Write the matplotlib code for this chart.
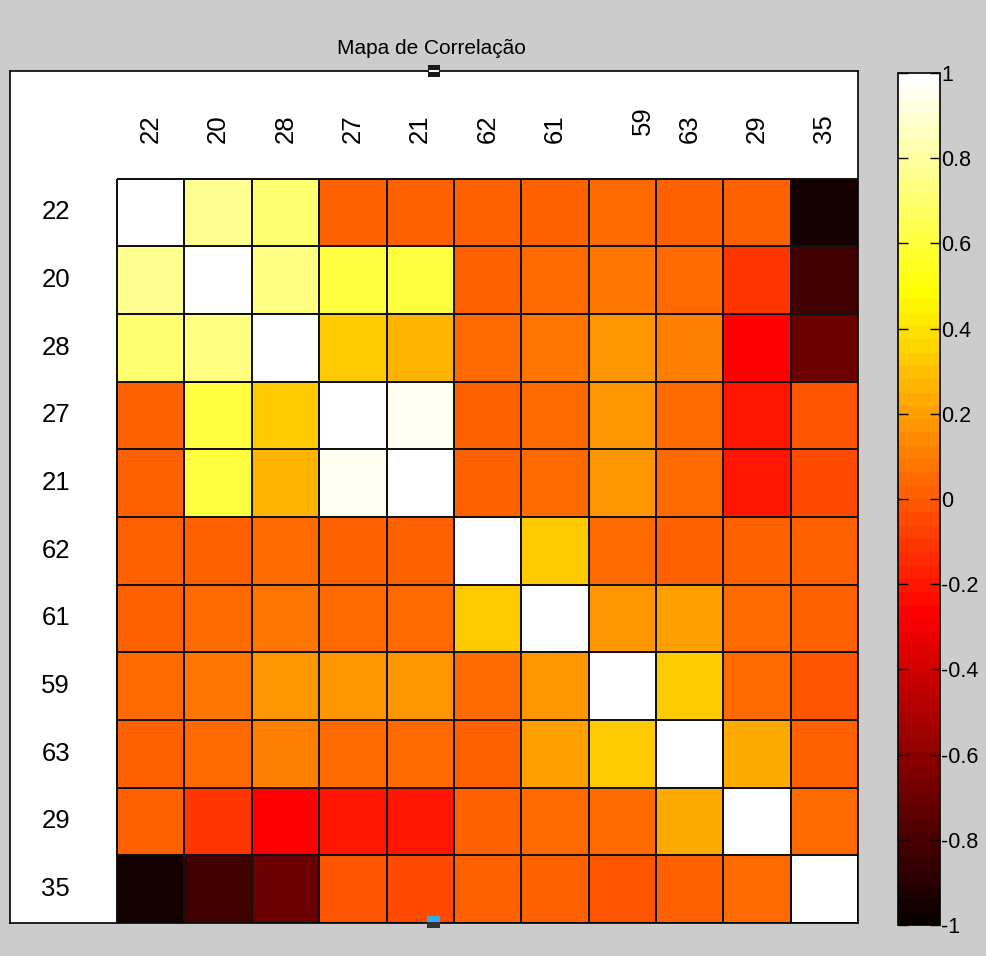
import numpy as np
import matplotlib
matplotlib.use('Agg')
import matplotlib.pyplot as plt
from matplotlib.colors import ListedColormap
from matplotlib.patches import Rectangle

plt.rcParams['font.family'] = ['Liberation Sans', 'DejaVu Sans']

labels = ['22', '20', '28', '27', '21', '62', '61', '59', '63', '29', '35']

r22 = [1.00, 0.78, 0.70, 0.03, 0.03, 0.01, 0.03, 0.04, 0.01, 0.01, -0.95]
r20 = [0.78, 1.00, 0.72, 0.60, 0.62, 0.03, 0.04, 0.08, 0.05, -0.11, -0.83]
r28 = [0.70, 0.72, 1.00, 0.34, 0.26, 0.04, 0.09, 0.17, 0.10, -0.27, -0.70]
r27 = [0.03, 0.60, 0.34, 1.00, 0.95, 0.03, 0.04, 0.16, 0.04, -0.20, -0.03]
r21 = [0.03, 0.62, 0.26, 0.95, 1.00, 0.03, 0.04, 0.16, 0.04, -0.19, -0.04]
r62 = [0.01, 0.03, 0.04, 0.03, 0.03, 1.00, 0.34, 0.04, 0.03, 0.00, 0.01]
r61 = [0.03, 0.04, 0.09, 0.04, 0.04, 0.34, 1.00, 0.17, 0.20, 0.05, 0.00]
r59 = [0.04, 0.08, 0.17, 0.16, 0.16, 0.04, 0.17, 1.00, 0.33, 0.04, -0.01]
r63 = [0.01, 0.05, 0.10, 0.04, 0.04, 0.03, 0.20, 0.33, 1.00, 0.22, 0.02]
r29 = [0.01, -0.11, -0.27, -0.20, -0.19, 0.00, 0.05, 0.04, 0.22, 1.00, 0.05]
r35 = [-0.95, -0.83, -0.70, -0.03, -0.04, 0.01, 0.00, -0.01, 0.02, 0.05, 1.00]

corr = np.array([r22, r20, r28, r27, r21, r62, r61, r59, r63, r29, r35])
cbar_ticks = [-1, -0.8, -0.6, -0.4, -0.2, 0, 0.2, 0.4, 0.6, 0.8, 1]
cbar_labels = ['-1', '-0.8', '-0.6', '-0.4', '-0.2', '0', '0.2', '0.4', '0.6', '0.8', '1']

# matlab style 'hot' with 64 levels
m = 64
n = 24
r = np.concatenate([np.arange(1, n + 1) / n, np.ones(m - n)])
g = np.concatenate([np.zeros(n), np.arange(1, n + 1) / n, np.ones(m - 2 * n)])
b = np.concatenate([np.zeros(2 * n), np.arange(1, m - 2 * n + 1) / (m - 2 * n)])
hot64 = ListedColormap(np.column_stack([r, g, b]))

W, H = 986, 956
fig = plt.figure(figsize=(W / 100, H / 100), dpi=100, facecolor='#cccccc')

ax = fig.add_axes([10 / W, (H - 923) / H, 848 / W, (923 - 71) / H])
ax.set_facecolor('white')
k = len(labels)
edges = np.arange(k + 1) - 0.5
mesh = ax.pcolormesh(edges, edges, corr, cmap=hot64, vmin=-1, vmax=1,
                     edgecolors='#111111', linewidth=1.2)
cell = (857 - 117) / k
pad = (117 - 10) / cell
ax.set_xlim(-0.5 - pad, k - 0.5)
ax.set_ylim(k - 0.5, -0.5 - pad)
ax.set_xticks([])
ax.set_yticks([])
for s in ax.spines.values():
    s.set_color('black')
    s.set_linewidth(1.2)

# labels written inside the axes
for i, lab in enumerate(labels):
    x, y = i, -1.03
    if lab == '59':
        x, y = 7.3, -1.15
    ax.text(x, y, lab, rotation=90, ha='center', va='bottom', fontsize=18.5)
    ax.text(-1.2, i, lab, ha='right', va='center', fontsize=18.5)

fig.text(431 / W, 1 - 48 / H, 'Mapa de Correlação', ha='center', va='center', fontsize=15)

# selection handles on the axes border
ax.add_patch(Rectangle((428 / W, 1 - 77 / H), 12 / W, 12 / H, transform=fig.transFigure,
                       facecolor='#1a1a1a', edgecolor='none', clip_on=False, zorder=5))
ax.add_patch(Rectangle((429 / W, 1 - 72 / H), 10 / W, 2 / H, transform=fig.transFigure,
                       facecolor='white', edgecolor='none', clip_on=False, zorder=6))
ax.add_patch(Rectangle((427 / W, 1 - 928 / H), 13 / W, 6 / H, transform=fig.transFigure,
                       facecolor='#333333', edgecolor='none', clip_on=False, zorder=5))
ax.add_patch(Rectangle((427 / W, 1 - 922 / H), 13 / W, 6 / H, transform=fig.transFigure,
                       facecolor='#33aaee', edgecolor='none', clip_on=False, zorder=5))

cax = fig.add_axes([898 / W, (H - 925) / H, 42 / W, (925 - 73) / H])
cb = fig.colorbar(mesh, cax=cax, ticks=cbar_ticks)
cb.outline.set_edgecolor('black')
cb.outline.set_linewidth(1.2)
cax.set_yticklabels(cbar_labels)
cax.tick_params(axis='y', direction='in', left=True, right=True, length=7, width=1,
                labelsize=15.5, pad=1)

fig.savefig('out.png', dpi=100, facecolor=fig.get_facecolor())
